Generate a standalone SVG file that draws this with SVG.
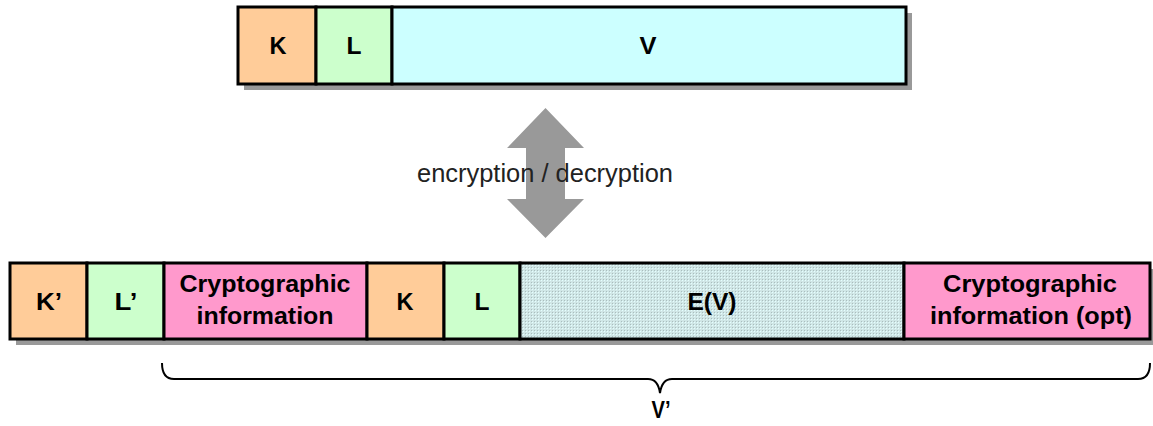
<svg xmlns="http://www.w3.org/2000/svg" width="1153" height="426" viewBox="0 0 1153 426">
  <style>
    .cell { stroke: #000; stroke-width: 3; }
    .shadow { fill: #999; }
    .lbl { font-family: "Liberation Sans", Arial, sans-serif; font-weight: bold; font-size: 23px; fill: #000; text-anchor: middle; }
    .k { fill: #FFCC99; }
    .l { fill: #CCFFCC; }
    .v { fill: #CCFFFF; }
    .ci { fill: #FF99CC; }
    .ev { fill: url(#dots); }
    .cap { font-family: "Liberation Sans", Arial, sans-serif; font-size: 25px; fill: #222; text-anchor: middle; }
  </style>
  <defs>
    <pattern id="dots" width="3" height="3" patternUnits="userSpaceOnUse">
      <rect width="3" height="3" fill="#D0E6E6"/>
      <rect x="0" y="0" width="1" height="1" fill="#A9BEBE"/>
      <rect x="1" y="1" width="1" height="1" fill="#E4FFFF"/>
    </pattern>
  </defs>
  <rect width="1153" height="426" fill="#fff"/>

  <!-- top record -->
  <rect class="shadow" x="244" y="13" width="668" height="77"/>
  <g id="top-K">
    <rect class="cell k" x="238" y="7" width="78" height="77"/>
    <text class="lbl" x="278" y="54" textLength="17" lengthAdjust="spacingAndGlyphs">K</text>
  </g>
  <g id="top-L">
    <rect class="cell l" x="316" y="7" width="76" height="77"/>
    <text class="lbl" x="354" y="54" textLength="15" lengthAdjust="spacingAndGlyphs">L</text>
  </g>
  <g id="top-V">
    <rect class="cell v" x="392" y="7" width="514" height="77"/>
    <text class="lbl" x="648" y="54" textLength="17" lengthAdjust="spacingAndGlyphs">V</text>
  </g>

  <!-- connectors -->
  <g id="connectors">
    <polygon points="545.5,108 584,148 565,148 565,199 584,199 545.5,238 507,199 526,199 526,148 507,148" fill="#999"/>
    <path d="M162,363 Q162,379 174,379 L648,379 Q658,379 660,393 Q662,379 672,379 L1138,379 Q1150,379 1150,363" fill="none" stroke="#000" stroke-width="2"/>
  </g>
  <g id="arrow-label">
    <text class="cap" x="545" y="182" textLength="256" lengthAdjust="spacingAndGlyphs">encryption / decryption</text>
  </g>

  <!-- bottom record -->
  <rect class="shadow" x="16" y="269" width="1140" height="76"/>
  <g id="bot-K1">
    <rect class="cell k" x="10" y="263" width="77" height="76"/>
    <text class="lbl" x="49" y="310" textLength="26" lengthAdjust="spacingAndGlyphs">K’</text>
  </g>
  <g id="bot-L1">
    <rect class="cell l" x="87" y="263" width="77" height="76"/>
    <text class="lbl" x="126" y="310" textLength="23" lengthAdjust="spacingAndGlyphs">L’</text>
  </g>
  <g id="bot-crypto">
    <rect class="cell ci" x="164" y="263" width="203" height="76"/>
    <text class="lbl" x="265" y="292" textLength="171" lengthAdjust="spacingAndGlyphs">Cryptographic</text>
    <text class="lbl" x="265" y="324" textLength="137" lengthAdjust="spacingAndGlyphs">information</text>
  </g>
  <g id="bot-K">
    <rect class="cell k" x="367" y="263" width="77" height="76"/>
    <text class="lbl" x="405" y="310" textLength="17" lengthAdjust="spacingAndGlyphs">K</text>
  </g>
  <g id="bot-L">
    <rect class="cell l" x="444" y="263" width="76" height="76"/>
    <text class="lbl" x="482" y="310" textLength="15" lengthAdjust="spacingAndGlyphs">L</text>
  </g>
  <g id="bot-EV">
    <rect class="cell ev" x="520" y="263" width="384" height="76"/>
    <text class="lbl" x="712" y="310" textLength="49" lengthAdjust="spacingAndGlyphs">E(V)</text>
  </g>
  <g id="bot-crypto-opt">
    <rect class="cell ci" x="904" y="263" width="246" height="76"/>
    <text class="lbl" x="1030" y="292" textLength="174" lengthAdjust="spacingAndGlyphs">Cryptographic</text>
    <text class="lbl" x="1031" y="324" textLength="202" lengthAdjust="spacingAndGlyphs">information (opt)</text>
  </g>

  <g id="brace-label">
    <text class="lbl" x="661" y="418" textLength="19" lengthAdjust="spacingAndGlyphs">V’</text>
  </g>
</svg>
